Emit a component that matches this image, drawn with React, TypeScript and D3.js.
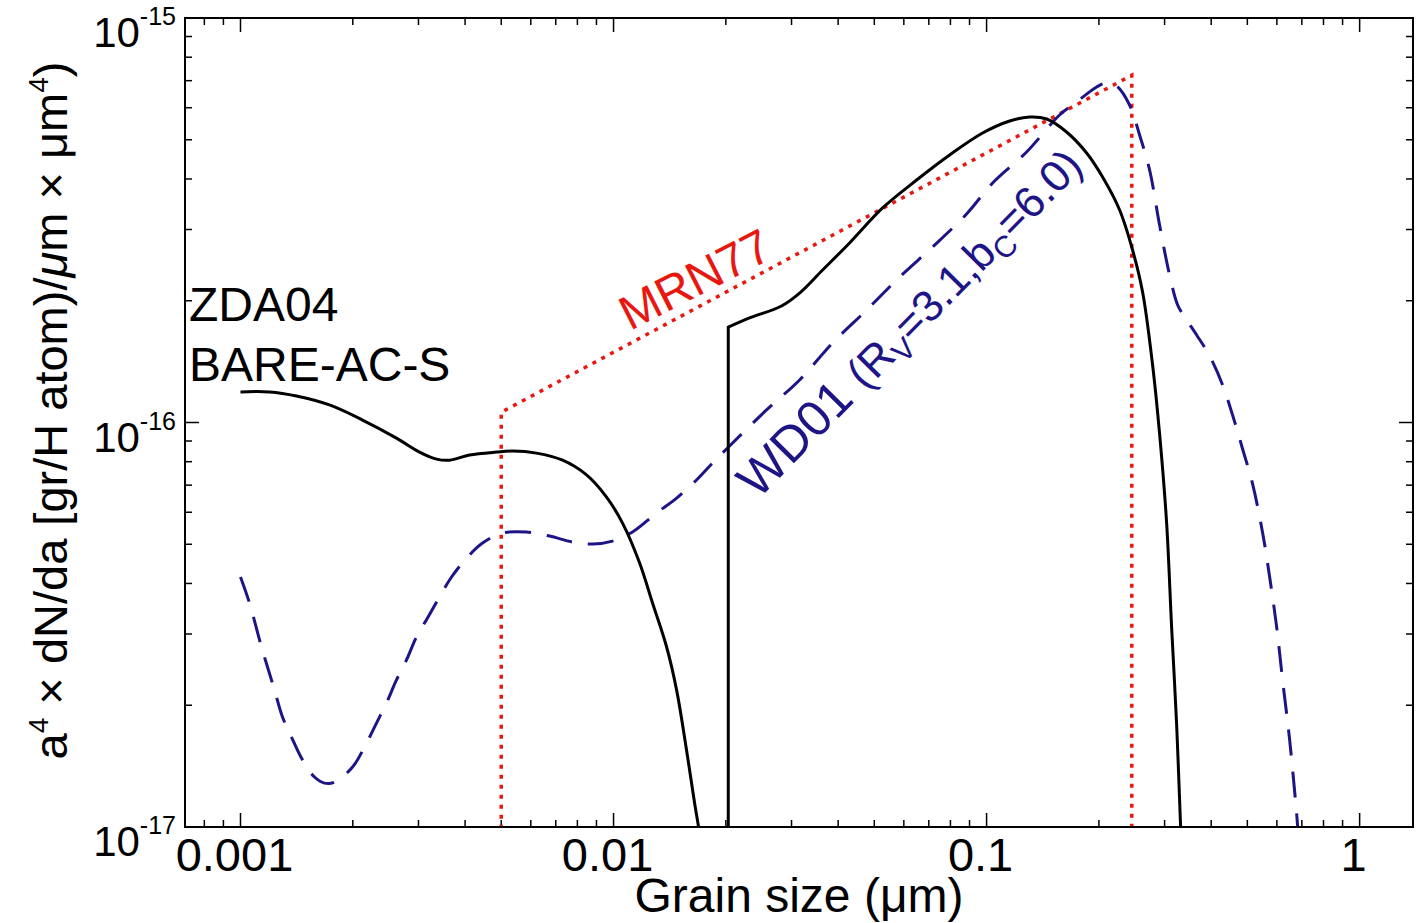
import React from "react";
import * as d3 from "d3";

// grain size (um) vs a^4 dN/da
const zdaSmall: [number, number][] = [
  [0.001, 1.19e-16], [0.001196, 1.19e-16], [0.001413, 1.163e-16], [0.001732, 1.105e-16],
  [0.002124, 1.014e-16], [0.002619, 9.15e-17], [0.003019, 8.45e-17], [0.003354, 8.12e-17],
  [0.003634, 8.07e-17], [0.004111, 8.31e-17], [0.004856, 8.45e-17], [0.00536, 8.5e-17],
  [0.006216, 8.4e-17], [0.007302, 8.07e-17], [0.008465, 7.42e-17], [0.009576, 6.54e-17],
  [0.01057, 5.64e-17], [0.01174, 4.5e-17], [0.01272, 3.58e-17], [0.01387, 2.79e-17],
  [0.01476, 2.18e-17], [0.01569, 1.55e-17], [0.01649, 1.146e-17], [0.0169, 1.0e-17],
  [0.0172, 9.0e-18],
];

// first point is the foot of the vertical jump
const zdaLarge: [number, number][] = [
  [0.0203, 8e-18], [0.0203, 1.72e-16], [0.02315, 1.813e-16], [0.0282, 1.941e-16],
  [0.03153, 2.089e-16], [0.03634, 2.382e-16], [0.04292, 2.779e-16], [0.05263, 3.392e-16],
  [0.06493, 3.976e-16], [0.07959, 4.585e-16], [0.09757, 5.196e-16], [0.1153, 5.564e-16],
  [0.1304, 5.692e-16], [0.1449, 5.627e-16], [0.1638, 5.226e-16], [0.1854, 4.638e-16],
  [0.2046, 4.045e-16], [0.2273, 3.353e-16], [0.2462, 2.67e-16], [0.2619, 2.102e-16],
  [0.2786, 1.387e-16], [0.2909, 9.37e-17], [0.3038, 5.64e-17], [0.3133, 3.12e-17],
  [0.3232, 1.787e-17], [0.3312, 1.0e-17], [0.333, 9e-18],
];

const wd01: [number, number][] = [
  [0.001, 4.15e-17], [0.001057, 3.58e-17], [0.001138, 2.79e-17], [0.001234, 2.18e-17],
  [0.001296, 1.87e-17], [0.00137, 1.669e-17], [0.001457, 1.481e-17], [0.001579, 1.329e-17],
  [0.001679, 1.284e-17], [0.001786, 1.29e-17], [0.001997, 1.407e-17], [0.002177, 1.613e-17],
  [0.002315, 1.807e-17], [0.002462, 2.025e-17], [0.002619, 2.31e-17], [0.002786, 2.588e-17],
  [0.002963, 2.949e-17], [0.003172, 3.286e-17], [0.003416, 3.704e-17], [0.003679, 4.15e-17],
  [0.004036, 4.62e-17], [0.004455, 5.036e-17], [0.00504, 5.33e-17], [0.005845, 5.36e-17],
  [0.006739, 5.24e-17], [0.007765, 5.064e-17], [0.008784, 5.006e-17], [0.009938, 5.09e-17],
  [0.01124, 5.36e-17], [0.01304, 5.975e-17], [0.01476, 6.505e-17], [0.01669, 7.21e-17],
  [0.01842, 7.94e-17], [0.02021, 8.65e-17], [0.02571, 1.074e-16], [0.03153, 1.274e-16],
  [0.03864, 1.572e-16], [0.04769, 1.897e-16], [0.05844, 2.289e-16], [0.07164, 2.716e-16],
  [0.08837, 3.277e-16], [0.1038, 3.909e-16], [0.128, 4.664e-16], [0.1569, 5.757e-16],
  [0.1743, 6.198e-16], [0.1972, 6.752e-16], [0.2098, 6.908e-16], [0.2231, 6.791e-16],
  [0.2417, 6.094e-16], [0.2571, 5.138e-16], [0.2735, 4.209e-16], [0.2909, 3.077e-16],
  [0.3094, 2.315e-16], [0.3252, 1.952e-16], [0.3396, 1.823e-16], [0.3656, 1.646e-16],
  [0.3962, 1.46e-16], [0.4292, 1.238e-16], [0.4565, 1.043e-16], [0.4856, 8.6e-17],
  [0.5164, 7.05e-17], [0.5495, 5.33e-17], [0.5738, 4.15e-17], [0.5992, 3.12e-17],
  [0.6218, 2.297e-17], [0.6492, 1.641e-17], [0.6779, 1.077e-17], [0.682, 1.0e-17],
];

const mrn77: [number, number][] = [
  [0.005, 5e-18], [0.005, 1.06e-16], [0.245, 7.22e-16], [0.245, 5e-18],
];

const xMajor = [0.001, 0.01, 0.1, 1];
const xMajorLabels = ["0.001", "0.01", "0.1", "1"];
const yMajor = [1e-17, 1e-16, 1e-15];
const yMajorExp = ["-17", "-16", "-15"];

const W = 1420;
const H = 923;
const left = 185, right = 1413, top = 18, bottom = 827;
const FONT = "'Liberation Sans', Arial, Helvetica, sans-serif";
const NAVY = "#1d1486";
const RED = "#e8170f";

export default function App() {
  const x = d3.scaleLog().domain([0.00071, 1.39]).range([left, right]);
  const y = d3.scaleLog().domain([1e-17, 1e-15]).range([bottom, top]);

  const smooth = d3
    .line<[number, number]>()
    .x((d) => x(d[0]))
    .y((d) => y(d[1]))
    .curve(d3.curveCatmullRom.alpha(0.5));
  const straight = d3
    .line<[number, number]>()
    .x((d) => x(d[0]))
    .y((d) => y(d[1]));

  // minor ticks 2..9 in every decade inside the domain
  const xMinor: number[] = [];
  for (let e = -4; e <= 0; e++)
    for (let m = 2; m <= 9; m++) {
      const v = m * Math.pow(10, e);
      if (v > 0.00071 && v < 1.39) xMinor.push(v);
    }
  const yMinor: number[] = [];
  for (let e = -17; e <= -16; e++)
    for (let m = 2; m <= 9; m++) yMinor.push(m * Math.pow(10, e));

  const major = 14;
  const minor = 7;

  return (
    <svg
      width={W}
      height={H}
      style={{ position: "absolute", left: 0, top: 0, background: "#fff" }}
      fontFamily={FONT}
    >
      <defs>
        <clipPath id="plot">
          <rect x={left} y={top} width={right - left} height={bottom - top} />
        </clipPath>
      </defs>

      {/* ticks on all four sides */}
      <g stroke="#000" strokeWidth={1.5}>
        {xMajor.map((v) => (
          <g key={"xM" + v}>
            <line x1={x(v)} x2={x(v)} y1={bottom} y2={bottom - major} />
            <line x1={x(v)} x2={x(v)} y1={top} y2={top + major} />
          </g>
        ))}
        {xMinor.map((v) => (
          <g key={"xm" + v}>
            <line x1={x(v)} x2={x(v)} y1={bottom} y2={bottom - minor} />
            <line x1={x(v)} x2={x(v)} y1={top} y2={top + minor} />
          </g>
        ))}
        {yMajor.map((v) => (
          <g key={"yM" + v}>
            <line x1={left} x2={left + major} y1={y(v)} y2={y(v)} />
            <line x1={right} x2={right - major} y1={y(v)} y2={y(v)} />
          </g>
        ))}
        {yMinor.map((v) => (
          <g key={"ym" + v}>
            <line x1={left} x2={left + minor} y1={y(v)} y2={y(v)} />
            <line x1={right} x2={right - minor} y1={y(v)} y2={y(v)} />
          </g>
        ))}
      </g>

      <g clipPath="url(#plot)" fill="none">
        <path d={straight(mrn77) || ""} stroke={RED} strokeWidth={3.5} strokeDasharray="4,6" />
        <path d={smooth(wd01) || ""} stroke={NAVY} strokeWidth={3} strokeDasharray="26,16" />
        <path d={smooth(zdaSmall) || ""} stroke="#000" strokeWidth={3} />
        <path
          d={(straight(zdaLarge.slice(0, 2)) || "") + (smooth(zdaLarge.slice(1)) || "").replace(/^M/, "L")}
          stroke="#000"
          strokeWidth={3}
          strokeLinejoin="miter"
        />
      </g>

      <rect
        x={left}
        y={top}
        width={right - left}
        height={bottom - top}
        fill="none"
        stroke="#000"
        strokeWidth={2}
      />

      {/* y tick labels */}
      {yMajor.map((v, i) => (
        <text key={"yl" + v} x={176} y={y(v) + 29} textAnchor="end" fontSize={42} fill="#000">
          10
          <tspan fontSize={25} dy={-22}>
            {yMajorExp[i]}
          </tspan>
        </text>
      ))}

      {/* x tick labels */}
      {xMajor.map((v, i) => (
        <text key={"xl" + v} x={x(v) - 6} y={871} textAnchor="middle" fontSize={47} fill="#000">
          {xMajorLabels[i]}
        </text>
      ))}

      <text x={(left + right) / 2} y={912} textAnchor="middle" fontSize={48} fill="#000">
        Grain size (μm)
      </text>

      <text
        transform={`translate(67,${(top + bottom) / 2 - 12}) rotate(-90)`}
        textAnchor="middle"
        fontSize={47}
        fill="#000"
      >
        a<tspan fontSize={28} dy={-19}>4</tspan>
        <tspan dy={19}> × dN/da [gr/H atom)/</tspan>
        <tspan fontStyle="italic">μ</tspan>
        <tspan>m × μm</tspan>
        <tspan fontSize={28} dy={-19}>4</tspan>
        <tspan dy={19}>)</tspan>
      </text>

      <text x={189} y={321} fontSize={48} fill="#000">ZDA04</text>
      <text x={189} y={381} fontSize={48} fill="#000">BARE-AC-S</text>

      <text transform="translate(630,331) rotate(-27)" fontSize={48} fill={RED}>
        MRN77
      </text>

      <text transform="translate(758,500) rotate(-45.5)" fontSize={50} fill={NAVY}>
        WD01{" "}
        <tspan fontSize={44}>(R</tspan>
        <tspan fontSize={30} dy={9}>V</tspan>
        <tspan fontSize={44} dy={-9}>=3.1,b</tspan>
        <tspan fontSize={30} dy={9}>C</tspan>
        <tspan fontSize={44} dy={-9}>=6.0)</tspan>
      </text>
    </svg>
  );
}
